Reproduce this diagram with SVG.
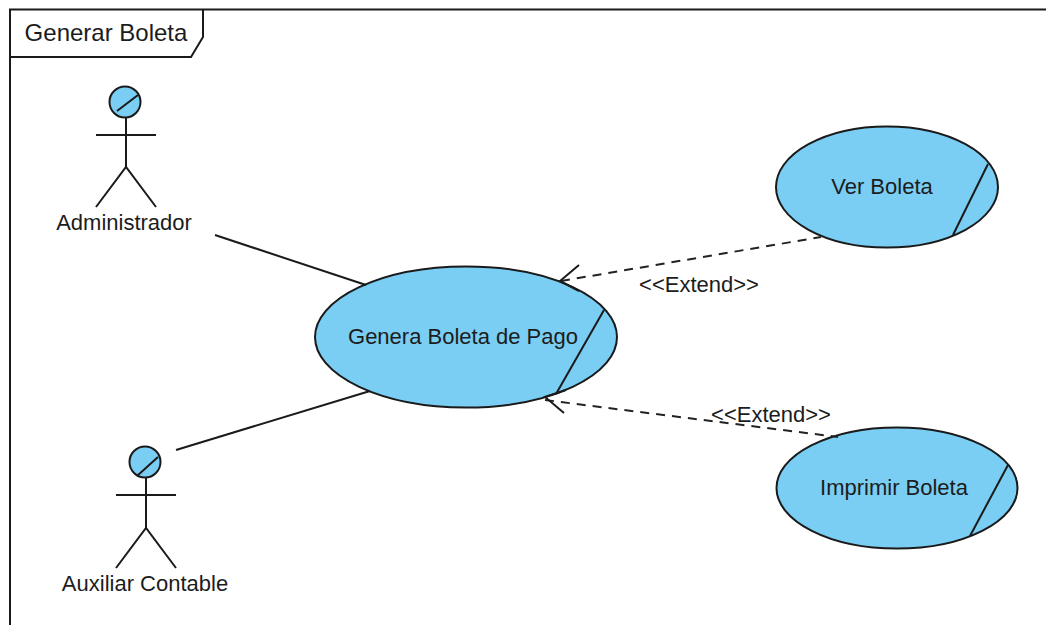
<svg xmlns="http://www.w3.org/2000/svg" width="1046" height="625" viewBox="0 0 1046 625">
<style>
.l{fill:none;stroke:#1a1a1a;stroke-width:2}
.f{fill:#7acef4;stroke:#1a1a1a;stroke-width:2}
.t{font-family:"Liberation Sans",Arial,sans-serif;font-size:22px;fill:#1c1c1c;text-anchor:middle}
.d{fill:none;stroke:#222;stroke-width:2;stroke-dasharray:9 7}
</style>
<rect width="1046" height="625" fill="#fff"/>
<g id="frame">
<path class="l" d="M1046 9.500H10V625"/>
<path class="l" d="M10 57H191L203 37V9.500"/>
<text class="t" x="106" y="41" style="font-size:24px">Generar Boleta</text>
</g>
<g id="uc-genera">
<ellipse class="f" cx="466" cy="337" rx="151" ry="70.500"/>
<path class="l" d="M604 310L556 394"/>
<text class="t" x="463" y="344">Genera Boleta de Pago</text>
</g>
<g id="uc-ver">
<ellipse class="f" cx="887" cy="187" rx="111" ry="60.500"/>
<path class="l" d="M988 164L953 235"/>
<text class="t" x="882" y="194">Ver Boleta</text>
</g>
<g id="uc-imprimir">
<ellipse class="f" cx="897" cy="488" rx="120.500" ry="60.500"/>
<path class="l" d="M1008 465L970 536"/>
<text class="t" x="894" y="495">Imprimir Boleta</text>
</g>
<g id="connectors">
<path class="l" d="M215 235L366 285"/>
<path class="l" d="M176 450L370 391"/>
<path class="d" d="M561 281L821 237"/>
<path class="l" d="M579 265L560 281L579 291"/>
<path class="d" d="M545 400L838 437"/>
<path class="l" d="M564 413L545 397L566 390"/>
<text class="t" x="699" y="292">&lt;&lt;Extend&gt;&gt;</text>
<text class="t" x="771" y="422">&lt;&lt;Extend&gt;&gt;</text>
</g>
<g id="actor-admin">
<circle class="f" cx="125" cy="102" r="15.500"/>
<path class="l" d="M117 111L138 95M126 118V167M96 135H156M96 207L126 167L156 207"/>
<text class="t" x="124" y="230">Administrador</text>
</g>
<g id="actor-auxiliar">
<circle class="f" cx="145" cy="462" r="15.500"/>
<path class="l" d="M137 476L158 457M146 478V528M116 495H176M116 568L146 528L176 568"/>
<text class="t" x="145" y="591">Auxiliar Contable</text>
</g>
</svg>
